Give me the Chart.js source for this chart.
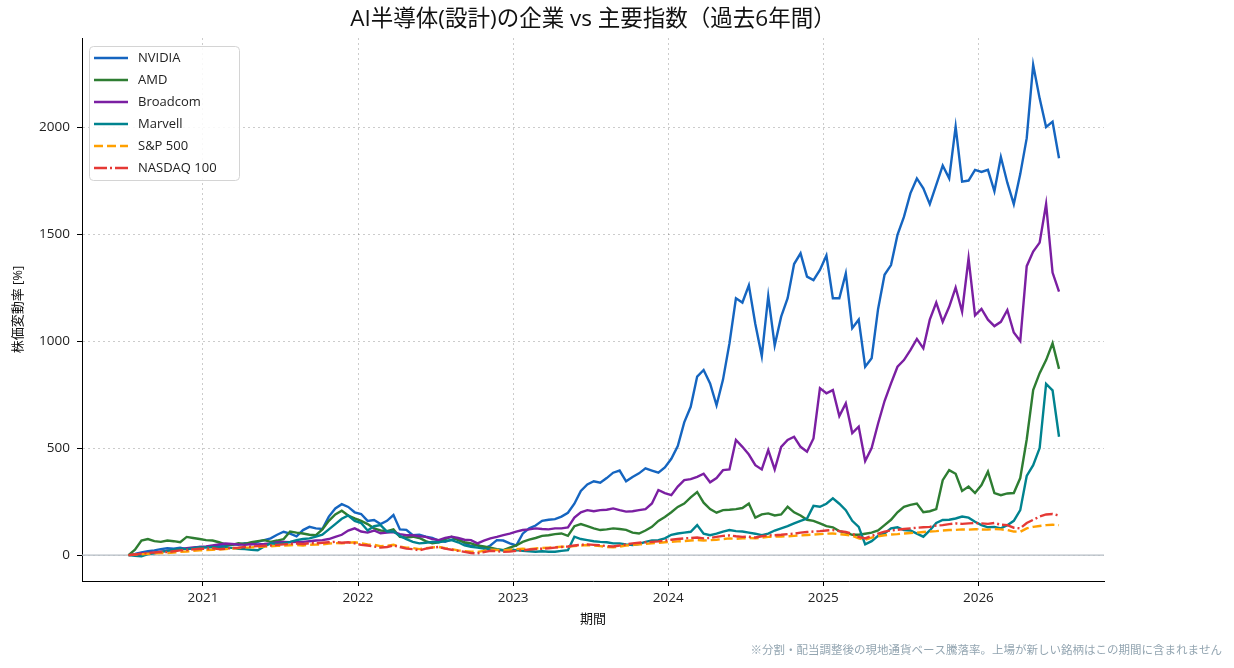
<!DOCTYPE html>
<html lang="ja">
<head>
<meta charset="utf-8">
<title>AI半導体(設計)の企業 vs 主要指数</title>
<script src="https://cdn.jsdelivr.net/npm/chart.js@4.4.1/dist/chart.umd.min.js"></script>
<style>
  html, body { margin: 0; padding: 0; background: #fff; }
  #wrap { width: 1234px; height: 668px; }
</style>
</head>
<body>
<div id="wrap"><canvas id="chart" width="1234" height="668"></canvas></div>
<script>
// 半月ごとの騰落率 [%]（2020年7月〜2026年7月）
const startYear = 2020.52;
const stepYear = 1 / 24;
const yearTicks = [2021, 2022, 2023, 2024, 2025, 2026];
const percentTicks = [0, 500, 1000, 1500, 2000];

const nvidia = [
    0, 5, 12, 18, 22, 28, 32, 30, 35, 28, 32, 38,
    36, 40, 45, 42, 50, 48, 55, 52, 62, 70, 78, 95,
    109, 100, 88, 117, 132, 125, 122, 180, 218, 238, 225, 200,
    192, 160, 164, 145, 160, 187, 120, 118, 93, 95, 86, 80,
    68, 62, 72, 78, 55, 42, 48, 31, 45, 70, 68, 55,
    45, 100, 125, 138, 160, 165, 168, 180, 198, 240, 300, 330,
    345, 338, 360, 385, 395, 345, 365, 382, 405, 395, 385, 410,
    450, 510, 620, 693, 834, 865, 802, 700, 820, 990, 1200, 1180,
    1260, 1080, 930, 1210, 980, 1114, 1200, 1360, 1410, 1301, 1285, 1332,
    1400, 1200, 1200, 1316, 1060, 1100, 880, 920, 1150, 1310, 1355, 1496,
    1580, 1690, 1760, 1714, 1640, 1730, 1820, 1760, 2002, 1745, 1750, 1800,
    1790, 1800, 1700, 1860, 1740, 1640, 1780, 1948, 2290, 2134, 2000, 2025,
    1854
];
const amd = [
    0, 25, 68, 75, 65, 62, 68, 65, 60, 85, 80, 75,
    70, 68, 60, 50, 48, 55, 52, 60, 65, 70, 62, 68,
    75, 110, 105, 101, 95, 93, 120, 160, 190, 207, 185, 172,
    160, 145, 125, 115, 112, 120, 85, 82, 86, 80, 65, 55,
    60, 75, 86, 70, 60, 55, 45, 40, 35, 28, 23, 35,
    45, 62, 72, 80, 90, 93, 98, 101, 90, 135, 145, 135,
    125, 117, 120, 125, 122, 118, 105, 101, 115, 132, 160, 178,
    200, 225, 241, 270, 295, 245, 215, 198, 210, 212, 215, 220,
    241, 175, 190, 195, 185, 190, 226, 200, 185, 165, 160, 148,
    135, 130, 112, 105, 95, 95, 100, 105, 115, 140, 165, 200,
    226, 235, 241, 200, 205, 215, 350, 397, 380, 300, 320, 290,
    327, 390, 290, 280, 288, 290, 360, 540, 771, 850, 911, 990,
    870
];
const broadcom = [
    0, 3, 8, 10, 12, 16, 20, 22, 28, 32, 36, 38,
    40, 45, 50, 54, 52, 50, 48, 52, 50, 52, 55, 60,
    62, 60, 62, 62, 65, 68, 70, 75, 85, 95, 115, 125,
    110, 105, 115, 102, 105, 108, 98, 93, 93, 88, 85, 75,
    70, 80, 86, 80, 72, 70, 55, 68, 78, 85, 93, 100,
    110, 117, 120, 125, 122, 120, 125, 125, 129, 175, 200, 210,
    205, 210, 212, 218, 210, 203, 205, 210, 215, 241, 304, 290,
    280, 320, 350, 355, 366, 380, 340, 360, 397, 400, 538, 506,
    470, 420, 400, 491, 400, 506, 538, 553, 506, 483, 545, 780,
    756, 771, 650, 709, 570, 600, 440, 500, 615, 720, 802, 880,
    911, 958, 1010, 966, 1100, 1180, 1090, 1160, 1250, 1137, 1387, 1120,
    1150, 1100, 1070, 1090, 1145, 1040, 1000, 1350, 1418, 1460, 1640, 1320,
    1231
];
const marvell = [
    0, -3, -5, 5, 8, 15, 20, 25, 30, 28, 32, 37,
    36, 38, 35, 37, 34, 30, 28, 25, 23, 40, 55, 52,
    55, 62, 70, 75, 78, 86, 95, 120, 145, 170, 185, 160,
    150, 115, 135, 140, 110, 110, 90, 75, 62, 55, 58, 62,
    60, 65, 70, 60, 45, 39, 35, 30, 27, 25, 23, 25,
    23, 20, 18, 16, 18, 16, 16, 20, 23, 86, 75, 70,
    65, 62, 60, 55, 55, 50, 47, 52, 62, 68, 70, 78,
    95, 101, 105, 109, 140, 100, 93, 100, 110, 117, 112, 110,
    105, 100, 93, 100, 115, 125, 135, 148, 160, 171, 230, 226,
    240, 265, 240, 210, 160, 132, 50, 65, 90, 101, 125, 130,
    117, 115, 100, 86, 115, 150, 164, 165, 171, 180, 175, 156,
    140, 130, 132, 125, 140, 160, 210, 370, 420, 500, 800, 770,
    553
];
const sp500 = [
    0, 2, 4, 6, 8, 10, 9, 12, 15, 17, 20, 22,
    23, 25, 26, 28, 30, 33, 35, 36, 38, 40, 41, 43,
    45, 46, 47, 45, 48, 49, 50, 54, 56, 55, 58, 60,
    55, 50, 48, 42, 44, 48, 40, 35, 33, 28, 32, 36,
    38, 32, 28, 22, 18, 16, 15, 20, 25, 24, 22, 25,
    28, 30, 28, 31, 33, 35, 37, 39, 40, 42, 45, 47,
    45, 42, 38, 36, 40, 45, 48, 50, 52, 55, 57, 60,
    62, 64, 66, 68, 70, 68, 70, 72, 75, 78, 76, 78,
    80, 78, 82, 85, 86, 87, 88, 90, 92, 94, 96, 98,
    100, 101, 98, 95, 90, 78, 72, 82, 88, 93, 96, 98,
    101, 103, 105, 108, 110, 112, 115, 117, 118, 120, 119, 121,
    120, 119, 122, 120, 117, 110, 109, 125, 132, 136, 140, 142,
    140
];
const nasdaq100 = [
    0, 3, 6, 10, 12, 15, 14, 18, 22, 24, 27, 30,
    30, 32, 28, 30, 33, 35, 38, 40, 42, 44, 45, 48,
    50, 52, 54, 52, 56, 55, 58, 60, 62, 58, 60, 55,
    48, 45, 40, 35, 38, 45, 38, 30, 28, 22, 30, 35,
    38, 30, 25, 20, 15, 10, 8, 14, 20, 18, 15, 16,
    20, 22, 26, 28, 30, 32, 35, 38, 40, 45, 48, 50,
    48, 46, 42, 40, 45, 50, 55, 58, 60, 62, 64, 68,
    72, 75, 78, 80, 82, 78, 80, 85, 90, 92, 88, 85,
    86, 82, 88, 92, 93, 95, 98, 100, 105, 108, 110, 112,
    115, 117, 112, 108, 100, 85, 78, 90, 100, 110, 115, 118,
    122, 125, 128, 130, 132, 138, 140, 145, 148, 146, 148, 150,
    148, 146, 150, 142, 140, 128, 125, 150, 165, 180, 190, 192,
    185
];

const seriesNames = ['NVIDIA', 'AMD', 'Broadcom', 'Marvell', 'S&P 500', 'NASDAQ 100'];
const seriesData = [nvidia, amd, broadcom, marvell, sp500, nasdaq100];
const seriesColors = ['#1565C0', '#2E7D32', '#7B1FA2', '#00838F', '#FFA000', '#E53935'];
const seriesDash = [[], [], [], [], [9, 4], [13, 3, 2, 3]];

const FONT = "'Open Sans', 'Noto Sans CJK JP', sans-serif";

const datasets = seriesData.map((values, k) => ({
    label: seriesNames[k],
    data: values.map((v, i) => ({ x: startYear + i * stepYear, y: v })),
    borderColor: seriesColors[k],
    backgroundColor: seriesColors[k],
    borderWidth: 2.4,
    borderDash: seriesDash[k],
    pointRadius: 0,
    tension: 0,
    fill: false,
    order: seriesData.length - k
}));

// タイトル・注記・凡例・ゼロ線
const decorations = {
    id: 'decorations',
    beforeDatasetsDraw(chart) {
        const { ctx, chartArea } = chart;
        const y0 = chart.scales.y.getPixelForValue(0);
        ctx.save();
        ctx.strokeStyle = '#b4bcc4';
        ctx.lineWidth = 1.2;
        ctx.beginPath();
        ctx.moveTo(chartArea.left, y0);
        ctx.lineTo(chartArea.right, y0);
        ctx.stroke();
        ctx.restore();
    },
    afterDraw(chart) {
        const { ctx, chartArea } = chart;
        ctx.save();

        ctx.fillStyle = '#111';
        ctx.font = '22.5px ' + FONT;
        ctx.textAlign = 'center';
        ctx.textBaseline = 'middle';
        ctx.fillText('AI半導体(設計)の企業 vs 主要指数（過去6年間）', (chartArea.left + chartArea.right) / 2, 20);

        ctx.fillStyle = '#93a5b1';
        ctx.font = '11.5px ' + FONT;
        ctx.textAlign = 'right';
        ctx.fillText('※分割・配当調整後の現地通貨ベース騰落率。上場が新しい銘柄はこの期間に含まれません', 1222, 651);

        // 凡例
        const bx = chartArea.left + 7;
        const by = chartArea.top + 8;
        ctx.fillStyle = 'rgba(255,255,255,0.85)';
        ctx.strokeStyle = '#d4d4d4';
        ctx.lineWidth = 1;
        ctx.beginPath();
        ctx.roundRect(bx + 0.5, by + 0.5, 150, 134, 4);
        ctx.fill();
        ctx.stroke();

        ctx.font = '13px ' + FONT;
        ctx.textAlign = 'left';
        ctx.textBaseline = 'middle';
        seriesNames.forEach((name, k) => {
            const y = by + 12 + k * 22;
            ctx.strokeStyle = seriesColors[k];
            ctx.lineWidth = 2.4;
            ctx.setLineDash(seriesDash[k]);
            ctx.beginPath();
            ctx.moveTo(bx + 5, y);
            ctx.lineTo(bx + 39, y);
            ctx.stroke();
            ctx.setLineDash([]);
            ctx.fillStyle = '#222';
            ctx.fillText(name, bx + 49, y);
        });
        ctx.restore();
    }
};

const gridOpts = {
    color: 'rgba(0,0,0,0.2)',
    lineWidth: 1,
    tickLength: 5,
    tickColor: '#000',
    tickWidth: 1,
    tickBorderDash: []
};

const ctx = document.getElementById('chart').getContext('2d');
new Chart(ctx, {
    type: 'line',
    data: { datasets: datasets },
    options: {
        responsive: false,
        animation: false,
        layout: { padding: { top: 38, right: 130, bottom: 27, left: 0 } },
        plugins: {
            legend: { display: false },
            title: { display: false },
            tooltip: { enabled: false }
        },
        scales: {
            x: {
                type: 'linear',
                min: 2020.22,
                max: 2026.81,
                afterFit: function (scale) { scale.height = 60; },
                afterBuildTicks: function (scale) {
                    scale.ticks = yearTicks.map(v => ({ value: v }));
                },
                ticks: {
                    color: '#222',
                    font: { family: FONT, size: 13.5 },
                    padding: 4,
                    maxRotation: 0,
                    callback: function (value) { return String(value); }
                },
                grid: gridOpts,
                border: { display: true, color: '#000', width: 1, dash: [2, 3] },
                title: {
                    display: true,
                    text: '期間',
                    color: '#111',
                    font: { family: FONT, size: 13 },
                    padding: { top: 0, bottom: 14 }
                }
            },
            y: {
                type: 'linear',
                min: -121,
                max: 2416,
                afterFit: function (scale) { scale.width = 82; },
                afterBuildTicks: function (scale) {
                    scale.ticks = percentTicks.map(v => ({ value: v }));
                },
                ticks: {
                    color: '#222',
                    font: { family: FONT, size: 13.5 },
                    padding: 7,
                    callback: function (value) { return String(value); }
                },
                grid: gridOpts,
                border: { display: true, color: '#000', width: 1, dash: [2, 3] },
                title: {
                    display: true,
                    text: '株価変動率 [%]',
                    color: '#111',
                    font: { family: FONT, size: 13 },
                    padding: { top: 10, bottom: 0 }
                }
            }
        }
    },
    plugins: [decorations]
});
</script>
</body>
</html>
